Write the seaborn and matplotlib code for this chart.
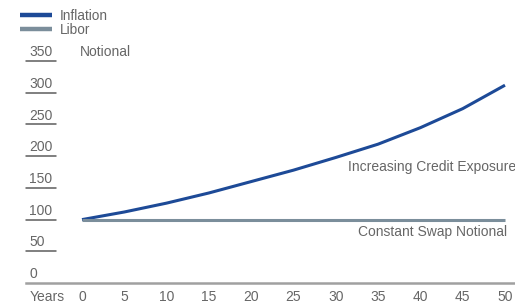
import matplotlib
matplotlib.use("Agg")
import matplotlib.pyplot as plt
import matplotlib.transforms as mtransforms
import pandas as pd
import seaborn as sns

# values
years = [0, 5, 10, 15, 20, 25, 30, 35, 40, 45, 50]
inflation = [100, 112, 126, 142, 160, 178, 198, 219, 245, 275, 312]
libor = [100, 100, 100, 100, 100, 100, 100, 100, 100, 100, 100]
y_ticks = [0, 50, 100, 150, 200, 250, 300, 350]
x_ticks = [0, 5, 10, 15, 20, 25, 30, 35, 40, 45, 50]

df = pd.DataFrame({
    "year": years * 2,
    "value": inflation + libor,
    "series": ["Inflation"] * len(years) + ["Libor"] * len(years),
})

sns.set_style("white")
plt.rcParams["font.family"] = ["Liberation Sans", "DejaVu Sans"]
txt = "#666666"
c_inf = "#1d4a97"
c_lib = "#7b8e9b"

W, H = 515, 304
fig = plt.figure(figsize=(W / 100, H / 100), dpi=100)
# axes: left edge at 26px, baseline at 283px
px_per_year = 8.46
x0_px = 82
left_px, right_px = 26, 515
xl = -(x0_px - left_px) / px_per_year
xr = (right_px - x0_px) / px_per_year
px_per_unit = 0.634
ytop = 370
ax = fig.add_axes([left_px / W, (H - 283) / H, (right_px - left_px) / W, ytop * px_per_unit / H])

sns.lineplot(data=df, x="year", y="value", hue="series",
             palette={"Inflation": c_inf, "Libor": c_lib},
             linewidth=2.2, ax=ax, legend=False)
for ln in ax.get_lines():
    ln.set_solid_capstyle("butt")
ax.set_xlim(xl, xr)
ax.set_ylim(0, ytop)

for s in ["top", "right", "left"]:
    ax.spines[s].set_visible(False)
ax.spines["bottom"].set_color("#a0a0a0")
ax.spines["bottom"].set_linewidth(1.8)

ax.set_xticks(x_ticks)
ax.set_xticklabels([str(v) for v in x_ticks])
ax.tick_params(axis="x", length=0, pad=5, labelsize=10, labelcolor=txt)
ax.set_yticks([])
ax.set_xlabel("")
ax.set_ylabel("")

# short underline marks under the y labels
tr = mtransforms.blended_transform_factory(ax.transAxes, ax.transData)
seg_end = (56 - left_px) / (right_px - left_px)
for v in y_ticks:
    if v > 0:
        ax.plot([0, seg_end], [v, v], color="#5c5c5c", lw=1.1, transform=tr, clip_on=False)
    ax.text(3 / (right_px - left_px), v + 3, str(v), transform=tr,
            ha="left", va="bottom", fontsize=10, color=txt)

ax.text(-4.1, -14 / px_per_unit, "Years", ha="center", va="center", fontsize=10, color=txt)
ax.text(-0.2, 365, "Notional", ha="left", va="center", fontsize=10, color=txt)
ax.text(51.3, 183, "Increasing Credit Exposure", ha="right", va="center", fontsize=10, color=txt)
ax.text(50.3, 80, "Constant Swap Notional", ha="right", va="center", fontsize=10, color=txt)

handles = [plt.Line2D([], [], color=c_inf, lw=3.2, solid_capstyle="butt"),
           plt.Line2D([], [], color=c_lib, lw=3.2, solid_capstyle="butt")]
leg = fig.legend(handles, ["Inflation", "Libor"], loc="upper left",
                 bbox_to_anchor=(20 / W, 1 - 9 / H), frameon=False,
                 borderpad=0, borderaxespad=0, handlelength=2.35,
                 handletextpad=0.6, labelspacing=-0.02, fontsize=9.8)
for t in leg.get_texts():
    t.set_color(txt)

fig.savefig("out.png", dpi=100)
